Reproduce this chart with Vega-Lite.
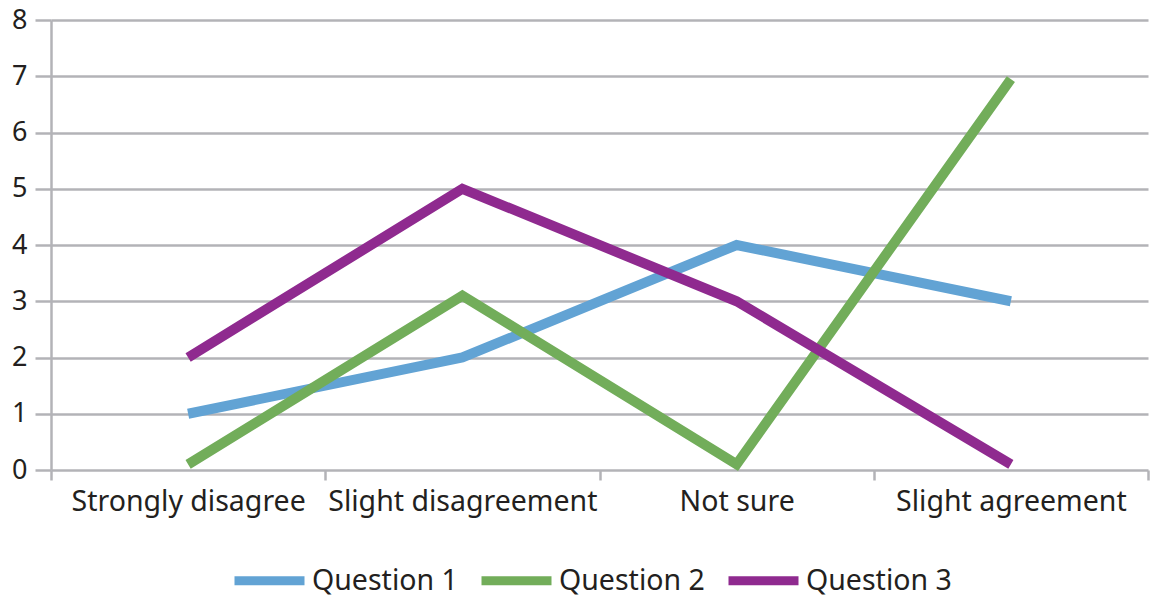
{
  "$schema": "https://vega.github.io/schema/vega-lite/v6.json",
  "width": 1097,
  "height": 450,
  "autosize": "none",
  "padding": {"left": 51, "top": 20, "right": 3, "bottom": 129},
  "background": "white",
  "config": {"view": {"stroke": null}, "font": "Noto Sans"},
  "data": {
    "values": [
      {"response": "Strongly disagree", "series": "Question 1", "value": 1},
      {"response": "Slight disagreement", "series": "Question 1", "value": 2},
      {"response": "Not sure", "series": "Question 1", "value": 4},
      {"response": "Slight agreement", "series": "Question 1", "value": 3},
      {"response": "Strongly disagree", "series": "Question 2", "value": 0.1},
      {"response": "Slight disagreement", "series": "Question 2", "value": 3.1},
      {"response": "Not sure", "series": "Question 2", "value": 0.1},
      {"response": "Slight agreement", "series": "Question 2", "value": 6.95},
      {"response": "Strongly disagree", "series": "Question 3", "value": 2},
      {"response": "Slight disagreement", "series": "Question 3", "value": 5},
      {"response": "Not sure", "series": "Question 3", "value": 3},
      {"response": "Slight agreement", "series": "Question 3", "value": 0.1}
    ]
  },
  "mark": {"type": "line", "strokeWidth": 10, "strokeCap": "butt", "strokeJoin": "miter"},
  "encoding": {
    "x": {
      "field": "response",
      "type": "nominal",
      "sort": ["Strongly disagree", "Slight disagreement", "Not sure", "Slight agreement"],
      "bandPosition": 0.5,
      "scale": {"type": "band", "paddingInner": 0, "paddingOuter": 0},
      "axis": {
        "title": null,
        "labelAngle": 0,
        "labelLimit": 0,
        "tickBand": "extent",
        "domain": false,
        "ticks": true,
        "tickColor": "#b3b3b7",
        "tickWidth": 2.5,
        "tickSize": 10,
        "labelFontSize": 28.5,
        "labelColor": "#231f20",
        "labelPadding": 7,
        "grid": false
      }
    },
    "y": {
      "field": "value",
      "type": "quantitative",
      "scale": {"domain": [0, 8], "nice": false},
      "axis": {
        "title": null,
        "values": [0, 1, 2, 3, 4, 5, 6, 7, 8],
        "grid": true,
        "gridColor": "#b3b3b7",
        "gridWidth": 2.5,
        "domain": true,
        "domainColor": "#b3b3b7",
        "domainWidth": 2.5,
        "tickColor": "#b3b3b7",
        "tickWidth": 2.5,
        "tickSize": 16,
        "labelFontSize": 27,
        "labelColor": "#231f20",
        "labelPadding": 8
      }
    },
    "color": {
      "field": "series",
      "type": "nominal",
      "scale": {"domain": ["Question 1", "Question 2", "Question 3"], "range": ["#62a3d4", "#72ad5a", "#8f2a8f"]},
      "legend": {
        "title": null,
        "orient": "none",
        "direction": "horizontal",
        "legendX": 179,
        "legendY": 521,
        "symbolType": "stroke",
        "symbolSize": 4900,
        "symbolStrokeWidth": 9,
        "labelFontSize": 28.5,
        "labelColor": "#231f20",
        "labelOffset": 3,
        "columnPadding": 5,
        "labelLimit": 0
      }
    }
  }
}
